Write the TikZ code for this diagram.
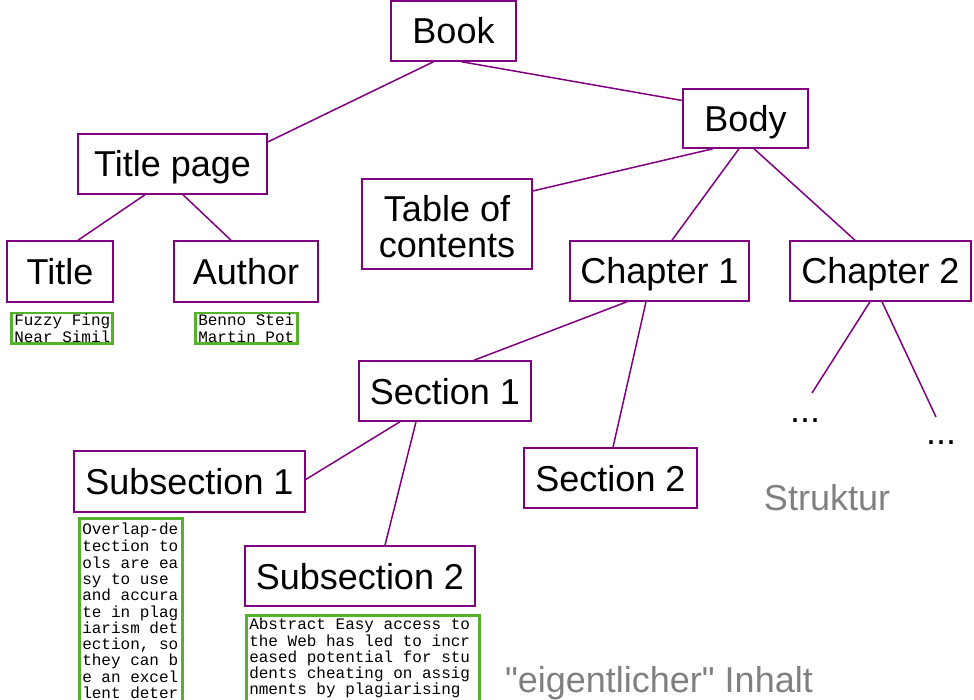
\documentclass[tikz,border=0pt]{standalone}
\usepackage{fontspec}
\setmainfont{Liberation Sans}[Ligatures=TeXOff]
\newfontfamily\monof{Liberation Mono}
\usetikzlibrary{calc}
\definecolor{purp}{RGB}{128,0,128}
\definecolor{grn}{RGB}{84,178,44}
\definecolor{lbl}{RGB}{128,128,128}
\newcommand{\monosetup}[1]{\monof\fontsize{16}{#1}\selectfont\hyphenpenalty=10000\exhyphenpenalty=10000}
\newcommand{\ms}{\hspace*{9.6pt}}
\begin{document}
\begin{tikzpicture}[x=1pt,y=-1pt,
  box/.style={draw=purp, line width=1.5pt, inner sep=0pt, align=center,
    font=\fontsize{36}{37}\selectfont, text height=26pt, text depth=0pt},
  boxtwo/.style={draw=purp, line width=1.5pt, inner sep=0pt, align=center,
    font=\fontsize{36}{36}\selectfont},
  conn/.style={draw=purp, line width=1.5pt},
  content/.style={draw=grn, line width=2.5pt, anchor=north west, inner xsep=3pt,
    inner ysep=0.5pt, align=left, font=\monosetup{16}},
  note/.style={text=lbl, font=\fontsize{36}{40}\selectfont, inner sep=0pt},
  dotsl/.style={font=\fontsize{36}{40}\selectfont, inner sep=0pt, anchor=base}]
\useasboundingbox (0,0) rectangle (974,700);
\fill[white] (0,0) rectangle (974,700);
% structure boxes
\node[box, minimum width=125, minimum height=60] (book) at (453.5,31) {Book};
\node[box, minimum width=125, minimum height=59] (body) at (745.5,118.5) {Body};
\node[box, minimum width=189, minimum height=60] (tp) at (172.5,164) {Title page};
\node[boxtwo, minimum width=170, minimum height=90] (toc) at (447,224) {\rule{0pt}{32pt}Table of\\contents};
\node[box, minimum width=106, minimum height=61] (title) at (60,271.5) {Title};
\node[box, minimum width=144, minimum height=61] (author) at (246,271.5) {Author};
\node[box, minimum width=179, minimum height=60] (ch1) at (659.5,271) {Chapter 1};
\node[box, minimum width=181, minimum height=60] (ch2) at (880.5,271) {Chapter 2};
\node[box, minimum width=172, minimum height=60] (sec1) at (445,391) {Section 1};
\node[box, minimum width=173, minimum height=60] (sec2) at (610.5,478) {Section 2};
\node[box, minimum width=231, minimum height=61] (sub1) at (189.5,481.5) {Subsection 1};
\node[box, minimum width=230, minimum height=60] (sub2) at (360,576) {Subsection 2};
% dots
\node[dotsl] (dots1) at (805,422) {...};
\node[dotsl] (dots2) at (941,444) {...};
\coordinate (d1end) at (812,393);
\coordinate (d2end) at (936,417);
% connectors
\draw[conn] ($(book.south)+(-20,0)$) -- ($(tp.east)+(0,-22)$);
\draw[conn] ($(book.south)+(8,0)$) -- ($(body.west)+(0,-18)$);
\draw[conn] ($(tp.south)+(-27.5,0)$) -- ($(title.north)+(18,0)$);
\draw[conn] ($(tp.south)+(10.5,0)$) -- ($(author.north)+(-15,0)$);
\draw[conn] ($(body.south)+(-32.5,0)$) -- ($(toc.east)+(0,-33)$);
\draw[conn] ($(body.south)+(-6.5,0)$) -- ($(ch1.north)+(12.5,0)$);
\draw[conn] ($(body.south)+(8.5,0)$) -- ($(ch2.north)+(-25.5,0)$);
\draw[conn] ($(ch1.south)+(-32.5,0)$) -- ($(sec1.north)+(29,0)$);
\draw[conn] ($(ch1.south)+(-13.5,0)$) -- ($(sec2.north)+(2.5,0)$);
\draw[conn] ($(ch2.south)+(-10.5,0)$) -- (d1end);
\draw[conn] ($(ch2.south)+(1.5,0)$) -- (d2end);
\draw[conn] ($(sec1.south)+(-45,0)$) -- ($(sub1.east)+(0,-2)$);
\draw[conn] ($(sec1.south)+(-29,0)$) -- ($(sub2.north)+(25,0)$);
% content boxes
\node[content, text width=95pt] (c1) at (10,312) {\strut Fuzzy\ms Fing\\Near\ms Simil};
\node[content, text width=96pt] (c2) at (194,312) {\strut Benno\ms Stei\\Martin\ms Pot};
\node[content, text width=97pt, font=\monosetup{16.3}, inner ysep=4.5pt] (c3) at (78,517)
  {\strut Overlap-de\\tection\ms to\\ols\ms are\ms ea\\sy\ms to\ms use\\and\ms accura\\te\ms in\ms plag\\iarism\ms det\\ection,\ms so\\they\ms can\ms b\\e\ms an\ms excel\\lent\ms deter\strut\\\strut\\\strut};
\node[content, text width=227pt, inner ysep=2.5pt] (c4) at (245,614)
  {\strut Abstract\ms Easy\ms access\ms to\\the\ms Web\ms has\ms led\ms to\ms incr\\eased\ms potential\ms for\ms stu\\dents\ms cheating\ms on\ms assig\\nments\ms by\ms plagiarising\strut\\\strut\\\strut};
% labels
\node[note] (struk) at (827,498) {Struktur};
\node[note] (inh) at (659,683) {"eigentlicher" Inhalt};
\end{tikzpicture}
\end{document}
